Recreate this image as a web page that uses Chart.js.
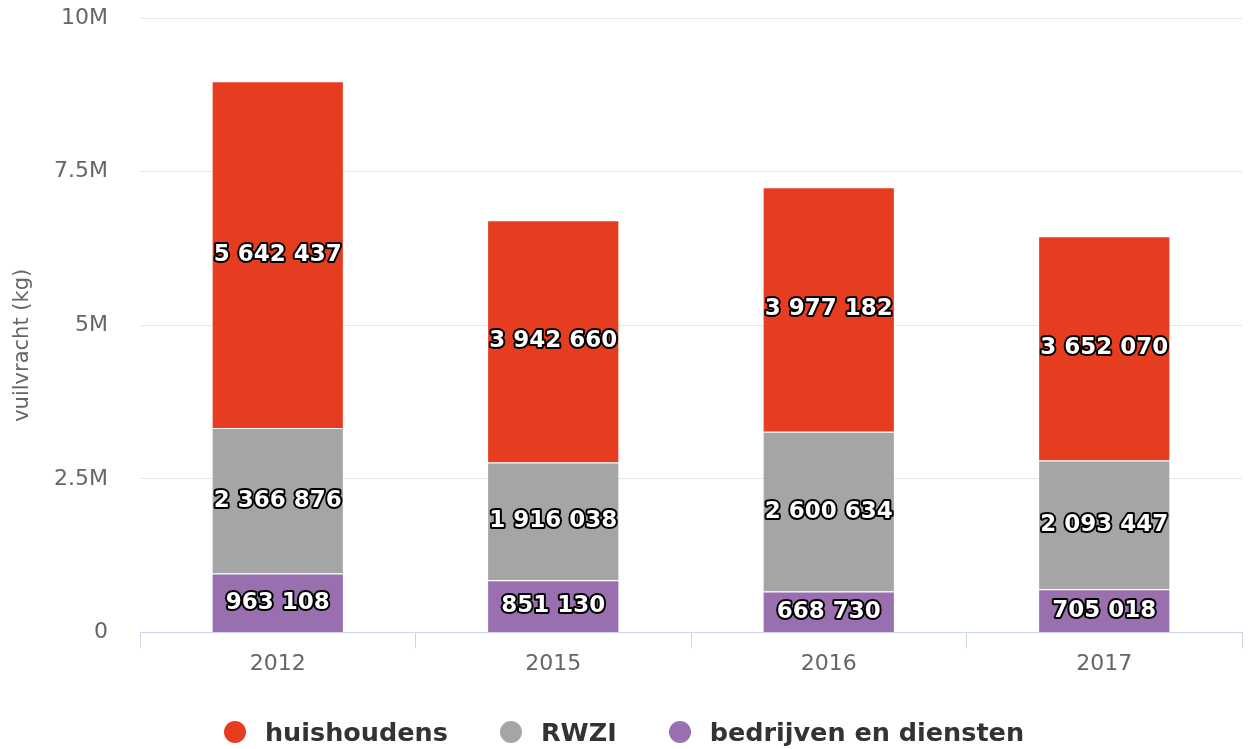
<!DOCTYPE html>
<html>
<head>
<meta charset="utf-8">
<script src="https://cdn.jsdelivr.net/npm/chart.js@4/dist/chart.umd.min.js"></script>
<style>
  html, body { margin: 0; padding: 0; background: #fff; }
  #wrap { position: relative; width: 1248px; height: 749px; }
  #legend {
    position: absolute; left: 0; right: 0; top: 716px; height: 32px;
    display: flex; justify-content: center; align-items: center;
    font: bold 25.5px "DejaVu Sans", sans-serif; color: #333;
  }
  .item { display: flex; align-items: center; margin: 0 26px; }
  .dot { width: 22px; height: 22px; border-radius: 50%; margin-right: 19px; }
</style>
</head>
<body>
<div id="wrap">
  <canvas id="chart" width="1248" height="749"></canvas>
  <div id="legend"></div>
</div>
<script>
// jaren op de x-as
const years = ['2012', '2015', '2016', '2017'];

// vuilvracht per bron (kg)
const huishoudens = [5642437, 3942660, 3977182, 3652070];
const rwzi = [2366876, 1916038, 2600634, 2093447];
const bedrijven = [963108, 851130, 668730, 705018];

const yTicks = [0, 2500000, 5000000, 7500000, 10000000];
const yTickLabels = ['0', '2.5M', '5M', '7.5M', '10M'];

const FONT = '"DejaVu Sans", sans-serif';

// getal met spatie als duizendtal-scheiding
function fmt(v) {
    return String(v).replace(/\B(?=(\d{3})+(?!\d))/g, ' ');
}

// labels midden in elk blok, wit met zwarte rand
const segmentLabels = {
    id: 'segmentLabels',
    afterDatasetsDraw(chart) {
        const ctx = chart.ctx;
        ctx.save();
        ctx.font = 'bold 23px ' + FONT;
        ctx.textAlign = 'center';
        ctx.textBaseline = 'middle';
        ctx.lineJoin = 'round';
        chart.data.datasets.forEach((ds, i) => {
            const meta = chart.getDatasetMeta(i);
            meta.data.forEach((bar, j) => {
                const y = (bar.y + bar.base) / 2;
                const txt = fmt(ds.data[j]);
                ctx.lineWidth = 4;
                ctx.strokeStyle = '#000';
                ctx.strokeText(txt, bar.x, y);
                ctx.fillStyle = '#fff';
                ctx.fillText(txt, bar.x, y);
            });
        });
        ctx.restore();
    }
};

// volgorde van onder naar boven
const datasets = [
    { label: 'bedrijven en diensten', data: bedrijven, backgroundColor: '#9a6fb0' },
    { label: 'RWZI', data: rwzi, backgroundColor: '#a6a5a6' },
    { label: 'huishoudens', data: huishoudens, backgroundColor: '#e63c20' }
];

const chart = new Chart(document.getElementById('chart'), {
    type: 'bar',
    data: {
        labels: years,
        datasets: datasets.map(d => Object.assign({
            borderColor: '#ffffff',
            borderWidth: 1,
            categoryPercentage: 1,
            barPercentage: 0.48
        }, d))
    },
    options: {
        responsive: false,
        animation: false,
        layout: { padding: { top: 18, right: 6, bottom: 70, left: 0 } },
        plugins: {
            legend: { display: false },
            tooltip: { enabled: false }
        },
        scales: {
            x: {
                stacked: true,
                grid: {
                    offset: true,
                    drawOnChartArea: false,
                    drawTicks: true,
                    tickLength: 16,
                    color: '#ccd6eb'
                },
                border: { color: '#ccd6eb', width: 1 },
                ticks: {
                    color: '#666666',
                    font: { family: FONT, size: 22 },
                    padding: 2
                }
            },
            y: {
                stacked: true,
                min: 0,
                max: 10000000,
                afterBuildTicks(scale) {
                    scale.ticks = yTicks.map(v => ({ value: v }));
                },
                afterFit(scale) { scale.width = 140; },
                grid: {
                    color: '#e6e6e6',
                    drawTicks: true,
                    tickLength: 32,
                    tickColor: 'rgba(0,0,0,0)'
                },
                border: { display: false },
                ticks: {
                    color: '#666666',
                    font: { family: FONT, size: 22 },
                    padding: 0,
                    callback: (v) => yTickLabels[yTicks.indexOf(v)]
                },
                title: {
                    display: true,
                    // spaties achteraan schuiven de titel iets omlaag
                    text: 'vuilvracht (kg)      ',
                    color: '#666666',
                    font: { family: FONT, size: 21 },
                    padding: { top: 10, bottom: 0 }
                }
            }
        }
    },
    plugins: [segmentLabels]
});

// legenda in de oorspronkelijke volgorde
const legend = document.getElementById('legend');
datasets.slice().reverse().forEach(d => {
    const item = document.createElement('div');
    item.className = 'item';
    const dot = document.createElement('span');
    dot.className = 'dot';
    dot.style.background = d.backgroundColor;
    const txt = document.createElement('span');
    txt.textContent = d.label;
    item.appendChild(dot);
    item.appendChild(txt);
    legend.appendChild(item);
});
</script>
</body>
</html>
